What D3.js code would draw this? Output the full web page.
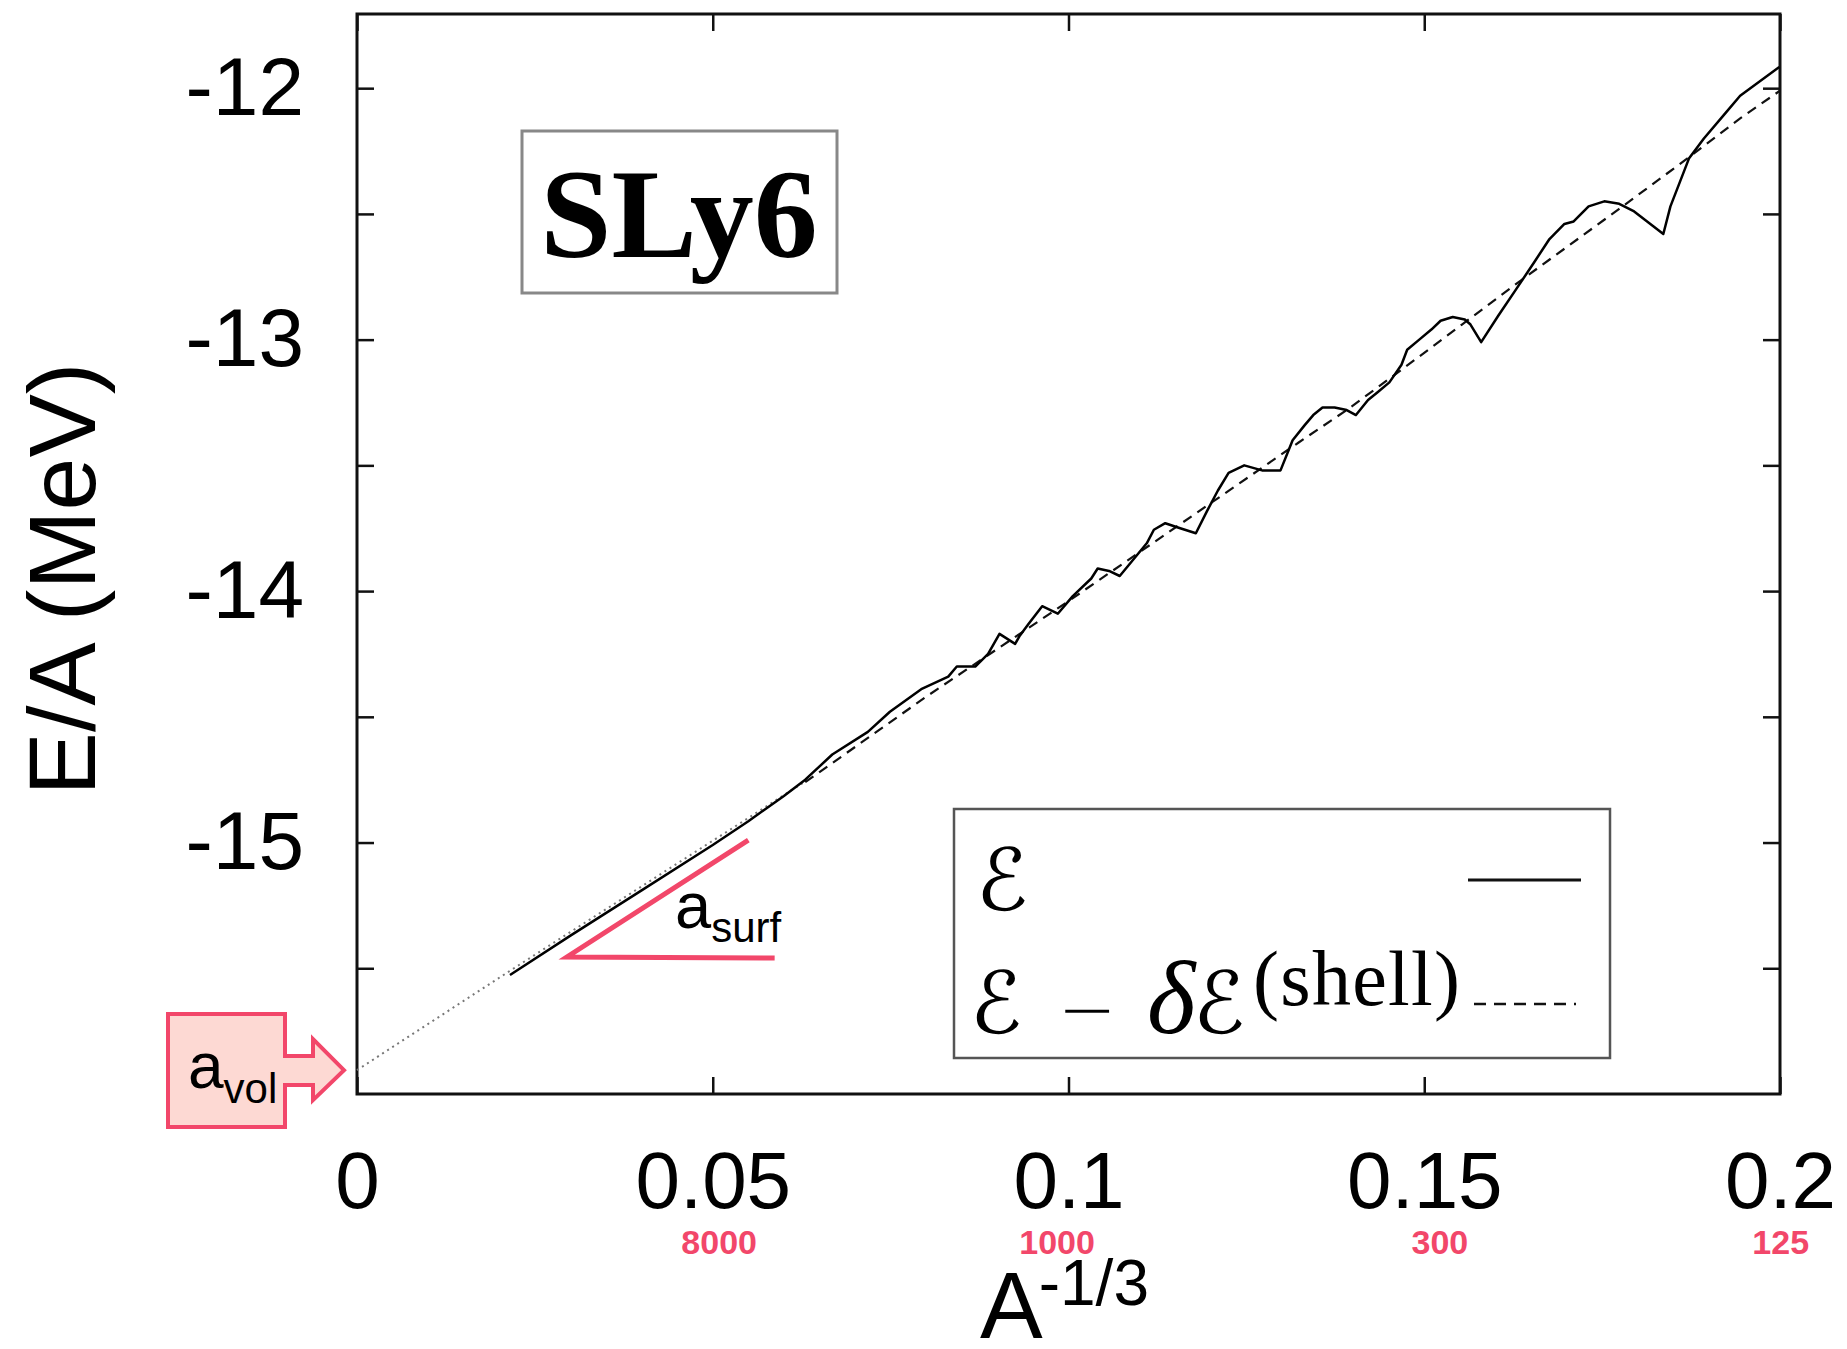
<!DOCTYPE html>
<html><head><meta charset="utf-8">
<script src="https://cdn.jsdelivr.net/npm/d3@7"></script>
<style>body{margin:0;background:#fff} svg{display:block}</style>
</head><body><svg id="c" width="1847" height="1349"></svg>
<script>
// ---------------- data ----------------
const xTickValues = [0, 0.05, 0.1, 0.15, 0.2];
const xTickLabels = ["0", "0.05", "0.1", "0.15", "0.2"];
const yMajorTicks = [-15, -14, -13, -12];
const yAllTicks = [-15.5, -15, -14.5, -14, -13.5, -13, -12.5, -12];
const massLabels = ["8000", "1000", "300", "125"];
const massLabelPos = [0.0509, 0.0984, 0.1522, 0.2001];

// E (solid)
const solidX = [0.0215, 0.030, 0.040, 0.050, 0.055, 0.060, 0.0630, 0.0668, 0.0718, 0.0749, 0.0793,
  0.0831, 0.0843, 0.0869, 0.0887, 0.0903, 0.0925, 0.0931, 0.0944, 0.0963, 0.0985, 0.1006, 0.1032,
  0.1041, 0.1057, 0.1072, 0.1110, 0.1120, 0.1136, 0.1157, 0.1179, 0.1195, 0.1210, 0.1225, 0.1247,
  0.1272, 0.1298, 0.1315, 0.1332, 0.1344, 0.1357, 0.1374, 0.1391, 0.1404, 0.1421, 0.1434, 0.1451,
  0.1468, 0.1476, 0.1493, 0.1510, 0.1523, 0.1540, 0.1557, 0.1565, 0.1580, 0.1604, 0.1629, 0.1655,
  0.1676, 0.1697, 0.1710, 0.1731, 0.1753, 0.1774, 0.1795, 0.1836, 0.1846, 0.1872, 0.1893, 0.1923,
  0.1944, 0.1999];
const solidY = [-15.527, -15.37, -15.19, -15.01, -14.915, -14.815, -14.75, -14.65, -14.56, -14.48, -14.39,
  -14.34, -14.30, -14.30, -14.25, -14.17, -14.21, -14.18, -14.13, -14.06, -14.09, -14.02, -13.95,
  -13.91, -13.92, -13.94, -13.81, -13.756, -13.73, -13.75, -13.77, -13.68, -13.60, -13.53, -13.50,
  -13.52, -13.52, -13.40, -13.34, -13.30, -13.27, -13.27, -13.28, -13.30, -13.24, -13.21, -13.17,
  -13.10, -13.04, -13.00, -12.96, -12.925, -12.91, -12.92, -12.94, -13.01, -12.905, -12.80, -12.69,
  -12.60, -12.54, -12.53, -12.47, -12.45, -12.46, -12.49, -12.58, -12.47, -12.28, -12.20, -12.10,
  -12.03, -11.916];

// E - dE(shell) (dashed)
const dashedX = [0.063, 0.070, 0.080, 0.090, 0.100, 0.110, 0.120, 0.1323, 0.1391, 0.1468, 0.1553,
  0.1638, 0.1774, 0.1872, 0.1944, 0.200];
const dashedY = [-14.76, -14.62, -14.42, -14.23, -14.04, -13.845, -13.65, -13.41, -13.28, -13.12, -12.94,
  -12.76, -12.48, -12.275, -12.12, -12.01];

// linear extrapolation (dotted)
const fitX = [0, 0.0215, 0.063];
const fitY = [-15.905, -15.51, -14.757];
const aVol = -15.905;
const surfTriangle = [[0.055, -14.99], [0.0295, -15.455], [0.0587, -15.459]];

// ---------------- layout ----------------
const svg = d3.select("#c");
const L = 357, R = 1780, T = 14, B = 1094;
const x = d3.scaleLinear().domain([0, 0.2]).range([L, R]);
const y = d3.scaleLinear().domain([-16, -11.705]).range([B, T]);
const RED = "#f2476a";
const sans = "'Liberation Sans', Arial, Helvetica, sans-serif";
const serif = "'Liberation Serif', 'Times New Roman', serif";

// axes
const fmtX = d => { const i = xTickValues.indexOf(d); return i >= 0 ? xTickLabels[i] : ""; };
const fmtY = d => yMajorTicks.includes(d) ? String(d) : "";

const gB = svg.append("g").attr("transform", `translate(0,${B})`)
  .call(d3.axisBottom(x).tickValues(xTickValues).tickFormat(fmtX).tickSizeInner(-17).tickSizeOuter(0).tickPadding(57));
const gT = svg.append("g").attr("transform", `translate(0,${T})`)
  .call(d3.axisTop(x).tickValues(xTickValues).tickFormat("").tickSizeInner(-17).tickSizeOuter(0));
const gL = svg.append("g").attr("transform", `translate(${L},0)`)
  .call(d3.axisLeft(y).tickValues(yAllTicks).tickFormat(fmtY).tickSizeInner(-17).tickSizeOuter(0).tickPadding(53));
const gR = svg.append("g").attr("transform", `translate(${R},0)`)
  .call(d3.axisRight(y).tickValues(yAllTicks).tickFormat("").tickSizeInner(-17).tickSizeOuter(0));
[gB, gT, gL, gR].forEach(g => {
  g.select(".domain").remove();
  g.selectAll(".tick line").attr("stroke", "#111").attr("stroke-width", 2.5);
  g.selectAll("text").attr("font-family", sans).attr("font-size", 82).attr("fill", "#000");
});
gB.selectAll("text").attr("font-size", 80);

// frame
svg.append("rect").attr("x", L).attr("y", T).attr("width", R - L).attr("height", B - T)
  .attr("fill", "none").attr("stroke", "#111").attr("stroke-width", 3);

// mass number labels
svg.append("g").selectAll("text").data(massLabels).join("text")
  .attr("x", (d, i) => x(massLabelPos[i])).attr("y", 1254)
  .attr("text-anchor", "middle").attr("font-family", sans).attr("font-weight", "bold")
  .attr("font-size", 34).attr("fill", RED).text(d => d);

// axis titles
svg.append("text").attr("transform", `translate(95,${(T + B) / 2 + 25}) rotate(-90)`)
  .attr("text-anchor", "middle").attr("font-family", sans).attr("font-size", 95).text("E/A (MeV)");
const xt = svg.append("text").attr("x", 980).attr("y", 1338).attr("font-family", sans).attr("font-size", 94);
xt.append("tspan").text("A");
xt.append("tspan").attr("font-size", 64).attr("dy", -33).attr("dx", -4).text("-1/3");

// lines
const line = d3.line().x(d => x(d[0])).y(d => y(d[1]));
svg.append("path").datum(fitX.map((v, i) => [v, fitY[i]]))
  .attr("d", line).attr("fill", "none").attr("stroke", "#777").attr("stroke-width", 2)
  .attr("stroke-dasharray", "2,4");
svg.append("path").datum(dashedX.map((v, i) => [v, dashedY[i]]))
  .attr("d", line).attr("fill", "none").attr("stroke", "#111").attr("stroke-width", 2.2)
  .attr("stroke-dasharray", "10,7");
svg.append("path").datum(solidX.map((v, i) => [v, solidY[i]]))
  .attr("d", line).attr("fill", "none").attr("stroke", "#000").attr("stroke-width", 2.5)
  .attr("stroke-linejoin", "round");

// a_surf triangle annotation
svg.append("path").datum(surfTriangle).attr("d", d3.line().x(d => x(d[0])).y(d => y(d[1])))
  .attr("fill", "none").attr("stroke", RED).attr("stroke-width", 5);
const st = svg.append("text").attr("x", 675).attr("y", 928).attr("font-family", sans).attr("font-size", 65);
st.append("tspan").text("a");
st.append("tspan").attr("font-size", 42).attr("dy", 14).text("surf");

// a_vol arrow annotation
const tipX = x(0) - 13, tipY = y(aVol);
const p = d3.path();
p.moveTo(tipX - 176, tipY - 56);
p.lineTo(tipX - 59, tipY - 56);
p.lineTo(tipX - 59, tipY - 14);
p.lineTo(tipX - 31, tipY - 14);
p.lineTo(tipX - 31, tipY - 31);
p.lineTo(tipX, tipY);
p.lineTo(tipX - 31, tipY + 30);
p.lineTo(tipX - 31, tipY + 15);
p.lineTo(tipX - 59, tipY + 15);
p.lineTo(tipX - 59, tipY + 57);
p.lineTo(tipX - 176, tipY + 57);
p.closePath();
svg.append("path").attr("d", p.toString()).attr("fill", "#fdd9d3").attr("stroke", RED).attr("stroke-width", 4)
  .attr("stroke-linejoin", "miter");
const av = svg.append("text").attr("x", tipX - 156).attr("y", tipY + 18).attr("font-family", sans).attr("font-size", 64);
av.append("tspan").text("a");
av.append("tspan").attr("font-size", 42).attr("dy", 15).text("vol");

// SLy6 label box
svg.append("rect").attr("x", 522).attr("y", 131).attr("width", 315).attr("height", 162)
  .attr("fill", "#fff").attr("stroke", "#888").attr("stroke-width", 3);
svg.append("text").attr("x", 679).attr("y", 257).attr("text-anchor", "middle")
  .attr("font-family", serif).attr("font-weight", "bold").attr("font-size", 128).text("SLy6");

// legend
const scriptFont = "'DejaVu Sans', sans-serif";
const lg = svg.append("g").attr("transform", "translate(954,809)");
lg.append("rect").attr("width", 656).attr("height", 249).attr("fill", "#fff")
  .attr("stroke", "#555").attr("stroke-width", 2.5);
lg.append("text").attr("x", 22).attr("y", 101).attr("font-family", scriptFont)
  .attr("font-size", 86).text("ℰ");
lg.append("line").attr("x1", 514).attr("x2", 627).attr("y1", 71).attr("y2", 71)
  .attr("stroke", "#111").attr("stroke-width", 3);
const l2 = lg.append("text").attr("y", 224).attr("font-size", 86);
l2.append("tspan").attr("x", 16).attr("font-family", scriptFont).text("ℰ");
l2.append("tspan").attr("x", 193).attr("font-family", serif).attr("font-style", "italic").attr("font-size", 104).text("δ");
l2.append("tspan").attr("x", 239).attr("font-family", scriptFont).text("ℰ");
l2.append("tspan").attr("x", 299).attr("y", 196).attr("font-family", serif).attr("font-size", 78)
  .attr("textLength", 207).text("(shell)");
lg.append("text").attr("x", 104).attr("y", 224).attr("font-family", "'DejaVu Sans', sans-serif")
  .attr("font-weight", 300).attr("font-size", 70).text("−");
lg.append("line").attr("x1", 520).attr("x2", 622).attr("y1", 195).attr("y2", 195)
  .attr("stroke", "#111").attr("stroke-width", 2.5).attr("stroke-dasharray", "12,8");
</script></body></html>
